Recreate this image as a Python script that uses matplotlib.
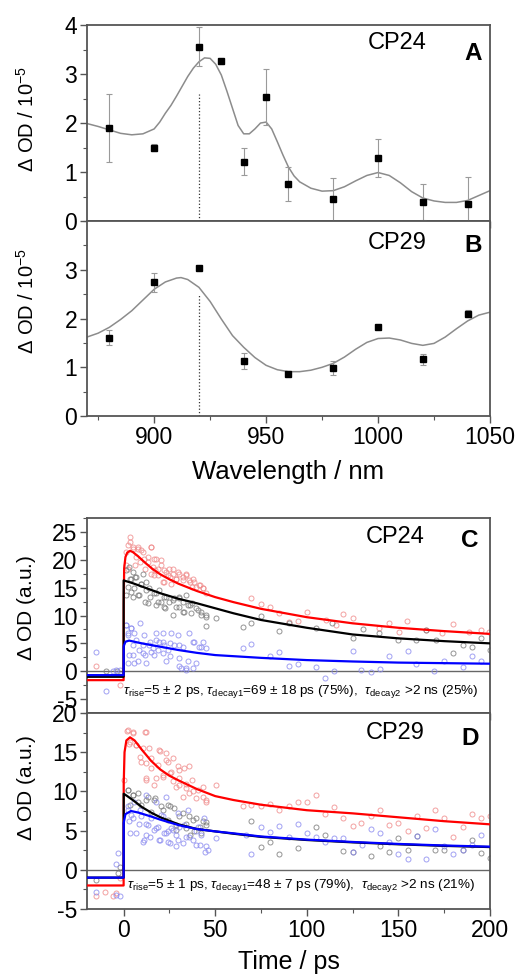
import matplotlib
matplotlib.use('agg')
import matplotlib.pyplot as plt
from matplotlib.ticker import MultipleLocator
import numpy as np

plt.rcParams['font.family'] = ['Liberation Sans', 'DejaVu Sans']
plt.rcParams['mathtext.fontset'] = 'custom'
plt.rcParams['mathtext.rm'] = 'Liberation Sans'
plt.rcParams['mathtext.it'] = 'Liberation Sans:italic'
plt.rcParams['mathtext.bf'] = 'Liberation Sans:bold'
plt.rcParams['axes.unicode_minus'] = False

# ---------------- spectra (panels A, B) ----------------
wl_cp24 = [880, 900, 920, 930, 940, 950, 960, 980, 1000, 1020, 1040]
od_cp24 = [1.90, 1.50, 3.56, 3.26, 1.21, 2.53, 0.76, 0.44, 1.28, 0.39, 0.35]
err_cp24 = [0.70, 0.08, 0.40, 0.05, 0.28, 0.57, 0.35, 0.43, 0.39, 0.37, 0.55]

wl_cp29 = [880, 900, 920, 940, 960, 980, 1000, 1020, 1040]
od_cp29 = [1.61, 2.74, 3.03, 1.13, 0.86, 0.99, 1.83, 1.16, 2.10]
err_cp29 = [0.15, 0.20, 0.03, 0.17, 0.03, 0.14, 0.04, 0.11, 0.07]

fit_wl = [870, 875, 880, 885, 890, 895, 900, 902.5, 905, 907.5, 910, 912.5, 915, 917.5, 920,
          922.5, 925, 927.5, 930, 932.5, 935, 937.5, 940, 942.5, 945, 947.5, 950, 952.5, 955,
          957.5, 960, 962.5, 965, 970, 975, 980, 985, 990, 995, 1000, 1005, 1010, 1015,
          1020, 1025, 1030, 1035, 1040, 1045, 1050]
fit_cp24 = [1.99, 1.93, 1.86, 1.79, 1.76, 1.78, 1.88, 2.02, 2.20, 2.36, 2.55, 2.75, 2.95, 3.12, 3.25,
            3.33, 3.32, 3.20, 2.98, 2.65, 2.30, 1.95, 1.78, 1.78, 1.88, 2.00, 2.02, 1.88, 1.62,
            1.35, 1.10, 0.92, 0.80, 0.67, 0.61, 0.62, 0.70, 0.82, 0.93, 0.99, 0.93, 0.78, 0.60,
            0.47, 0.41, 0.38, 0.38, 0.42, 0.52, 0.62]

fit_wl_b = [870, 875, 880, 885, 890, 895, 900, 905, 910, 912, 915, 920, 925, 930, 935, 940, 945,
            950, 955, 960, 965, 970, 975, 980, 985, 990, 995, 1000, 1005, 1010, 1015, 1020,
            1025, 1030, 1035, 1040, 1045, 1050]
fit_cp29 = [1.62, 1.70, 1.82, 1.98, 2.16, 2.38, 2.60, 2.75, 2.83, 2.84, 2.80, 2.64, 2.35, 1.99, 1.65,
            1.41, 1.20, 1.04, 0.95, 0.91, 0.91, 0.94, 1.00, 1.08, 1.21, 1.37, 1.51, 1.59, 1.60,
            1.56, 1.49, 1.45, 1.49, 1.62, 1.79, 1.95, 2.07, 2.13]

marker_wl = 920
marker_top = {'A': 2.6, 'B': 2.5}

# ---------------- kinetics (panels C, D) ----------------
# fitted traces
c_t_red = [-20, 0, 0.05, 0.3, 1, 2, 3.5, 5, 8, 12, 16, 20, 25, 30, 40, 50, 60, 75, 100, 125, 150, 175, 200]
c_fit_red = [-1.6, -1.6, 12.0, 18.5, 20.5, 21.3, 21.6, 21.4, 20.6, 19.4, 18.3, 17.4, 16.5, 15.7, 14.4, 13.3, 12.4, 11.2, 9.7, 8.6, 7.8, 7.2, 6.7]
c_t_blk = [-20, 0, 0.02, 5, 10, 20, 30, 40, 50, 60, 75, 100, 125, 150, 175, 200]
c_fit_blk = [-1.0, -1.0, 16.3, 15.8, 15.2, 14.0, 13.0, 12.2, 11.3, 10.4, 9.2, 7.8, 6.6, 5.9, 5.4, 5.0]
c_t_blu = [-20, 0, 0.05, 1, 3, 10, 20, 30, 40, 50, 75, 100, 125, 150, 175, 200]
c_fit_blu = [-0.7, -0.7, 4.5, 5.3, 5.5, 5.0, 4.4, 3.8, 3.3, 2.9, 2.4, 2.0, 1.75, 1.55, 1.45, 1.35]

d_t_red = [-20, 0, 0.05, 0.5, 1.5, 3.5, 6, 10, 15, 20, 25, 30, 40, 50, 60, 75, 100, 125, 150, 175, 200]
d_fit_red = [-2.0, -2.0, 11.0, 15.0, 16.5, 16.9, 16.5, 15.3, 13.9, 12.8, 12.0, 11.4, 10.3, 9.4, 8.9, 8.3, 7.6, 7.2, 6.7, 6.2, 5.8]
d_t_blk = [-20, 0, 0.05, 2, 5, 10, 15, 20, 30, 40, 50, 60, 75, 100, 125, 150, 175, 200]
d_fit_blk = [-1.0, -1.0, 9.7, 9.4, 8.9, 8.0, 7.3, 6.7, 5.8, 5.2, 4.9, 4.6, 4.2, 3.8, 3.5, 3.25, 3.05, 2.9]
d_t_blu = [-20, 0, 0.05, 1, 4, 8, 15, 20, 30, 40, 50, 60, 75, 100, 125, 150, 175, 200]
d_fit_blu = [-1.0, -1.0, 6.0, 7.1, 7.5, 7.3, 6.8, 6.4, 5.7, 5.2, 4.9, 4.65, 4.25, 3.85, 3.55, 3.3, 3.1, 2.95]

# measured points (time ps, dOD)
c_pts_red = [(-14.9, 0.9), (-2.2, -2.4), (1.5, 21.4), (1.5, 19.0), (2.4, 18.4), (3.3, 23.2), (3.6, 24.1),
             (5.1, 22.3), (6.0, 19.0), (7.8, 22.0), (8.7, 19.6), (10.5, 21.4), (11.5, 18.4), (13.3, 20.5),
             (15.1, 22.3), (15.1, 17.5), (16.9, 18.1), (17.8, 20.2), (18.7, 17.2), (20.5, 19.0), (21.5, 16.0),
             (23.3, 17.8), (25.1, 16.9), (26.9, 18.4), (28.7, 16.6), (30.5, 17.5), (32.4, 16.3), (34.2, 17.2),
             (36.0, 16.0), (37.8, 16.6), (39.6, 15.2), (41.5, 15.4), (43.3, 14.9),
             (2.2, 22.6), (4.9, 22.0), (7.6, 22.3), (9.5, 21.7), (14.9, 22.3), (6.7, 20.5), (11.3, 20.2),
             (13.1, 19.6), (16.7, 20.2), (20.4, 19.9), (15.8, 18.7), (18.5, 18.4), (22.2, 18.1), (24.9, 18.4),
             (24.0, 17.2), (26.7, 17.5), (29.5, 17.8), (28.5, 16.6), (32.2, 16.9), (34.0, 17.5), (35.8, 16.3),
             (38.6, 16.0), (37.6, 15.2), (41.3, 15.4), (43.1, 14.9), (44.9, 14.0), (22.2, 16.0), (25.8, 15.7),
             (16.7, 17.2),
             (69.6, 13.2), (75.1, 12.0),
             (80, 11.6), (85, 10.4), (90.5, 8.9), (95, 9.0), (100, 10.7), (110.5, 9.2), (116, 8.3), (120, 10.2),
             (125, 9.5), (139.6, 7.7), (145, 8.6), (150.5, 7.0), (154.7, 9.0), (165, 7.4), (174, 6.8),
             (179.6, 8.4), (188.7, 7.1), (195, 7.4), (199.6, 7.1)]
c_pts_blk = [(-9.5, 0.1), (-3.6, 0.0), (1.5, 18.1), (2.4, 15.2), (3.3, 16.6), (4.2, 14.3), (5.1, 13.4),
             (6, 16.9), (7.8, 13.7), (9.6, 15.7), (11.5, 12.5), (12.4, 14.6), (14.2, 13.4), (17.8, 14.0),
             (17.8, 11.9), (20.5, 12.5), (22.4, 11.3), (23.3, 13.4), (26.9, 12.8), (26.9, 10.1), (30.5, 13.1),
             (30.5, 11.6), (32.4, 10.7), (34.2, 13.7), (36, 11.9), (39.6, 11.3), (42.4, 10.7), (45.1, 10.1),
             (3.1, 18.7), (4.9, 17.8), (4.0, 16.6), (6.7, 16.9), (10.4, 17.5), (9.5, 15.7), (12.2, 16.0),
             (5.8, 14.9), (8.5, 13.7), (14.0, 14.9), (16.7, 14.0), (19.5, 14.6), (22.2, 13.4), (18.5, 12.5),
             (24.9, 12.5), (27.6, 13.1), (30.4, 13.4), (32.2, 12.5), (28.5, 11.6), (34.9, 11.9), (37.6, 12.2),
             (40.4, 11.0), (42.2, 10.1), (36.7, 10.4), (44.9, 9.8), (44.9, 8.2), (33.1, 10.7), (22.2, 11.6),
             (13.1, 12.2), (1.3, 13.7),
             (50.5, 9.5), (65.1, 8.0), (69.6, 8.6), (75.1, 9.9), (85, 7.2), (90.5, 8.6), (105, 7.7), (114, 8.6),
             (125, 5.9), (130.5, 7.6), (139.6, 6.8), (149.6, 5.6), (159.6, 5.6), (165, 7.4), (170.5, 5.6),
             (179.6, 3.2), (185, 4.7), (190, 4.4), (195, 5.9), (200, 3.8)]
c_pts_blu = [(-14.9, 3.4), (-9.5, -3.6), (-5.8, 0.0), (-4, 0.3), (-2.2, 0.3), (1.5, 8.3), (2.4, 6.8),
             (4.2, 7.7), (5.1, 3.0), (6.9, 5.6), (7.8, 1.8), (8.7, 8.6), (10.5, 4.7), (11.5, 3.0), (14.2, 5.3),
             (15.1, 3.5), (17.8, 5.6), (18.7, 3.8), (21.5, 5.3), (21.5, 3.2), (25.1, 5.0), (25.1, 2.7),
             (30.5, 4.7), (30.5, 0.9), (34.2, 0.6), (37.8, 5.3), (37.8, 0.6), (42.4, 4.4), (45.1, 4.1),
             (1.3, 8.3), (4.0, 7.7), (2.2, 6.5), (5.8, 6.8), (11.3, 6.5), (17.6, 6.8), (21.3, 6.8),
             (25.8, 6.8), (29.5, 6.5), (35.8, 6.8), (4.9, 4.7), (8.5, 3.9), (14.0, 4.7), (15.8, 4.1),
             (19.5, 5.3), (22.2, 4.7), (24.0, 3.9), (27.6, 4.7), (32.2, 4.4), (38.6, 5.3), (41.3, 4.4),
             (43.1, 5.3), (3.1, 2.9), (10.4, 3.2), (16.7, 2.9), (23.1, 1.8), (30.4, 2.4), (34.9, 1.8),
             (39.5, 1.5), (31.3, 0.6), (34.0, 0.3), (5.8, 1.5), (12.2, 1.5), (2.2, 1.5),
             (65.1, 4.1), (69.6, 4.9), (80, 2.7), (85, 3.4), (90.1, 1.0), (95, 1.3), (105, 0.7), (110, -1.3),
             (115, 0.1), (125, 3.6), (129.6, 0.3), (135, -0.2), (140, 0.4), (145, 2.7), (155, 3.6),
             (159.6, 1.3), (169.6, 0.0), (175, 1.8), (185, 0.7), (190, 2.7), (195, 1.8)]

d_pts_red = [(-14.9, -3.4), (-10.4, -2.8), (-5.8, -3.4), (-4, -3.0), (-2.2, -1.1), (0, 11.4), (2, 17.7),
             (3.3, 16.3), (5.1, 17.4), (6.9, 15.9), (8.7, 14.4), (11.5, 17.6), (12.4, 13.6), (12.4, 11.5),
             (15.1, 13.0), (17.8, 11.7), (19.6, 15.1), (21.5, 11.9), (23.3, 14.0), (25.1, 12.3), (26.9, 11.3),
             (30.5, 12.7), (30.5, 10.8), (32.4, 9.3), (34.2, 10.4), (37.8, 10.0), (39.6, 9.1), (43.3, 10.6),
             (45.1, 8.9), (2.2, 17.8), (4.9, 17.6), (12.2, 17.6), (3.1, 16.1), (6.7, 15.9), (10.4, 15.5),
             (14.0, 15.5), (19.5, 15.3), (23.1, 14.9), (9.5, 13.8), (14.9, 14.2), (18.5, 13.4), (24.0, 13.8),
             (26.7, 14.2), (29.5, 13.2), (33.1, 13.0), (35.8, 13.2), (21.3, 12.1), (25.8, 12.5), (30.4, 11.7),
             (34.0, 11.0), (37.6, 11.5), (40.4, 10.2), (28.5, 10.6), (35.8, 9.8), (43.1, 9.3), (44.9, 8.7),
             (12.2, 11.7), (16.7, 10.8), (50.4, 10.8),
             (65.1, 8.1), (69.6, 8.3), (75.1, 8.1), (80, 8.4), (85, 7.6), (90.2, 8.1), (95, 8.7),
             (100, 8.6), (105, 9.6), (110, 7.1), (115, 8.0), (120, 6.6), (125, 5.6), (129.6, 6.0), (135, 6.9),
             (140, 7.6), (145, 5.7), (149.6, 6.0), (155, 4.9), (160, 6.8), (165, 5.3), (170, 7.6), (175, 6.6),
             (179.6, 4.2), (185, 5.4), (190, 7.1), (195, 6.6), (200, 6.9)]
d_pts_blk = [(-14.9, -1.3), (-3.1, -0.4), (-2.2, 0.4), (2.4, 10.2), (3.3, 8.3), (5.1, 9.6), (7.8, 8.7),
             (12.4, 8.9), (16.9, 9.1), (21.5, 7.6), (24.2, 6.4), (25.1, 8.1), (28.7, 5.1), (30.5, 6.8),
             (34.2, 5.9), (36, 4.5), (37.8, 6.4), (41.5, 5.5), (45.1, 6.1), (2.2, 10.2), (4.9, 9.6),
             (7.6, 9.8), (13.1, 9.3), (16.7, 8.9), (20.4, 8.1), (24.0, 8.3), (27.6, 7.9), (32.2, 7.2),
             (35.8, 6.8), (39.5, 6.6), (43.1, 6.2), (44.9, 5.7), (9.5, 8.3), (14.9, 7.4), (28.5, 5.7),
             (34.0, 5.3), (38.6, 4.9), (42.2, 4.7),
             (69.6, 6.2), (75.1, 2.9), (80, 3.6),
             (85, 2.0), (95, 2.8), (105, 5.4), (110, 4.5), (120, 2.4), (125, 2.3), (135, 1.8), (140, 3.0),
             (145, 2.3), (150, 4.0), (155, 2.5), (160, 4.3), (170, 2.5), (175, 2.5), (185, 2.5), (190, 3.8),
             (195, 2.2), (200, 1.5)]
d_pts_blu = [(-14.9, -2.8), (-4, -3.2), (-2.2, -3.4), (-4, 0.8), (-3.1, 2.1), (2.4, 7.6), (3.3, 4.7),
             (5.1, 6.6), (8.7, 7.6), (10.5, 3.6), (12.4, 5.9), (14.2, 4.2), (17.8, 5.3), (19.6, 3.8),
             (21.5, 6.8), (23.3, 4.7), (25.1, 3.4), (26.9, 5.1), (28.7, 3.0), (30.5, 5.5), (34.2, 4.2),
             (37.8, 3.8), (39.6, 4.9), (41.5, 3.2), (44.2, 2.3), (2.2, 8.1), (5.8, 8.7), (12.2, 9.6),
             (17.6, 8.7), (23.1, 9.3), (4.0, 7.0), (9.5, 6.8), (14.9, 6.6), (20.4, 7.0), (29.5, 7.2),
             (34.9, 7.6), (3.1, 6.2), (8.5, 5.9), (13.1, 5.7), (18.5, 5.5), (25.8, 5.3), (33.1, 5.7),
             (40.4, 5.5), (44.0, 6.6), (6.7, 4.7), (12.2, 4.5), (16.7, 5.1), (22.2, 4.7), (28.5, 4.5),
             (35.8, 4.2), (42.2, 4.5), (11.3, 3.8), (19.5, 3.8), (24.0, 3.6), (32.2, 3.4), (39.5, 3.2),
             (44.9, 3.0), (29.5, 3.8), (24.0, 4.9), (50.4, 4.0), (45.8, 2.5),
             (66.9, 4.5), (69.6, 2.0), (75.1, 5.4), (80, 4.8),
             (85, 5.6), (90.2, 4.2), (95, 5.9), (100, 4.7), (105, 4.2), (110, 3.5), (115, 4.0), (120, 4.0),
             (125, 2.3), (130, 3.2), (135, 5.2), (140, 4.7), (145, 3.5), (150, 2.0), (155, 1.4), (160, 4.3),
             (165, 1.4), (170, 5.2), (175, 3.0), (180, 2.0), (185, 2.5), (190, 3.2), (195, 4.5)]

tau_c = r'$\tau_{\rm rise}$=5 $\pm$ 2 ps, $\tau_{\rm decay1}$=69 $\pm$ 18 ps (75%),  $\tau_{\rm decay2}$ >2 ns (25%)'
tau_d = r'$\tau_{\rm rise}$=5 $\pm$ 1 ps, $\tau_{\rm decay1}$=48 $\pm$ 7 ps (79%),  $\tau_{\rm decay2}$ >2 ns (21%)'

fs = 16.5
spine_col = '#555555'

fig = plt.figure(figsize=(5.19, 9.75), dpi=100)
axA = fig.add_axes([0.1676, 0.7733, 0.7765, 0.2010])
axB = fig.add_axes([0.1676, 0.5733, 0.7765, 0.2000])
axC = fig.add_axes([0.1676, 0.2687, 0.7765, 0.2000])
axD = fig.add_axes([0.1676, 0.0677, 0.7765, 0.2010])


def style(ax, xminor, yminor):
    for s in ax.spines.values():
        s.set_color(spine_col)
        s.set_linewidth(1.3)
    ax.tick_params(which='both', direction='out', color=spine_col, labelsize=fs, top=False, right=False)
    ax.tick_params(which='major', length=5, width=1.0, pad=2)
    ax.tick_params(which='minor', length=3, width=0.8)
    ax.xaxis.set_minor_locator(MultipleLocator(xminor))
    ax.yaxis.set_minor_locator(MultipleLocator(yminor))


# spectra
for ax, wl, od, err, fwl, fit, name, letter, ny, ly in [
        (axA, wl_cp24, od_cp24, err_cp24, fit_wl, fit_cp24, 'CP24', 'A', 0.908, 0.857),
        (axB, wl_cp29, od_cp29, err_cp29, fit_wl_b, fit_cp29, 'CP29', 'B', 0.887, 0.877)]:
    ax.plot(fwl, fit, color='#8c8c8c', lw=1.1, zorder=2)
    ax.errorbar(wl, od, yerr=err, fmt='none', ecolor='#9a9a9a', elinewidth=0.8, capsize=2.2, capthick=0.8, zorder=3)
    ax.plot(wl, od, 's', color='black', ms=4.5, zorder=4)
    ax.plot([marker_wl, marker_wl], [0, marker_top[letter]], ls=':', color='#333333', lw=0.9)
    ax.set_xlim(870, 1050)
    ax.set_ylim(0, 4)
    ax.set_xticks([900, 950, 1000, 1050])
    ax.set_yticks([0, 1, 2, 3, 4])
    style(ax, 25, 0.5)
    ax.set_ylabel(r'$\Delta$ OD / 10$^{-5}$', fontsize=14.5)
    ax.text(0.77, ny, name, transform=ax.transAxes, fontsize=fs + 0.5, ha='center', va='center')
    ax.text(0.958, ly, letter, transform=ax.transAxes, fontsize=fs + 1,
            fontweight='bold', ha='center', va='center')

axA.tick_params(labelbottom=False)
axA.yaxis.set_label_coords(-0.122, 0.52)
axB.set_yticks([0, 1, 2, 3])
axB.yaxis.set_label_coords(-0.122, 0.59)
axB.set_xlabel('Wavelength / nm', fontsize=18.5, labelpad=8)

# kinetics
for ax, fits, pts, name, letter, tau, ylim, ticks, ny, ly, tx, tyy in [
        (axC, [(c_t_red, c_fit_red, 'red'), (c_t_blk, c_fit_blk, 'black'), (c_t_blu, c_fit_blu, 'blue')],
         [(c_pts_red, '#f08a8a'), (c_pts_blk, '#7a7a7a'), (c_pts_blu, '#8a8af0')],
         'CP24', 'C', tau_c, (-7.5, 27.5), [-5, 0, 5, 10, 15, 20, 25], 0.904, 0.887, 0.09, 0.11),
        (axD, [(d_t_red, d_fit_red, 'red'), (d_t_blk, d_fit_blk, 'black'), (d_t_blu, d_fit_blu, 'blue')],
         [(d_pts_red, '#f08a8a'), (d_pts_blk, '#7a7a7a'), (d_pts_blu, '#8a8af0')],
         'CP29', 'D', tau_d, (-5, 20), [-5, 0, 5, 10, 15, 20], 0.898, 0.872, 0.10, 0.12)]:
    ax.axhline(0, color='#666666', lw=1.0, zorder=1)
    for p, col in pts:
        arr = np.array(p)
        ax.plot(arr[:, 0], arr[:, 1], 'o', mfc='none', mec=col, mew=0.7, ms=3.6, alpha=0.8, zorder=2)
    for t, v, col in fits:
        ax.plot(t, v, color=col, lw=1.6, zorder=3)
    ax.set_xlim(-20, 200)
    ax.set_ylim(*ylim)
    ax.set_xticks([0, 50, 100, 150, 200])
    ax.set_yticks(ticks)
    style(ax, 25, 2.5)
    ax.set_ylabel(r'$\Delta$ OD (a.u.)', fontsize=15)
    ax.text(0.764, ny, name, transform=ax.transAxes, fontsize=fs + 0.5, ha='center', va='center')
    ax.text(0.95, ly, letter, transform=ax.transAxes, fontsize=fs + 1,
            fontweight='bold', ha='center', va='center')
    ax.text(tx, tyy, tau, transform=ax.transAxes, fontsize=9.7, ha='left', va='center')

axC.tick_params(labelbottom=False)
axC.yaxis.set_label_coords(-0.122, 0.54)
axD.yaxis.set_label_coords(-0.122, 0.62)
axD.set_xlabel('Time / ps', fontsize=18, labelpad=6)

plt.savefig('out.png', dpi=100)
plt.close()
